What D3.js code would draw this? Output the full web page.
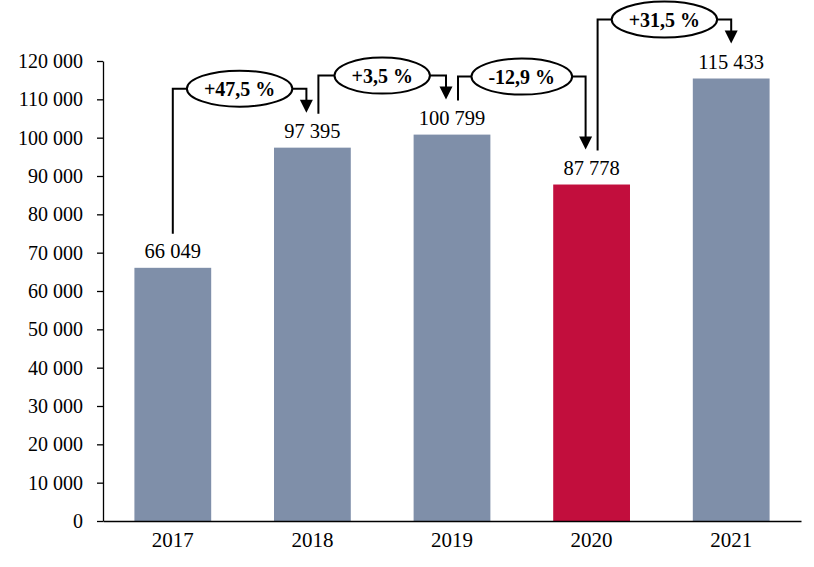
<!DOCTYPE html>
<html>
<head>
<meta charset="utf-8">
<script src="https://cdn.jsdelivr.net/npm/d3@7"></script>
<style>
  body { margin: 0; background: #fff; }
  svg { display: block; font-family: "Liberation Serif", "DejaVu Serif", serif; }
</style>
</head>
<body>
<div id="chart"></div>
<script>
const years = ["2017", "2018", "2019", "2020", "2021"];
const values = [66049, 97395, 100799, 87778, 115433];
const changes = ["+47,5 %", "+3,5 %", "-12,9 %", "+31,5 %"];
const highlightYear = "2020";
const yTicks = [0, 10000, 20000, 30000, 40000, 50000, 60000, 70000, 80000, 90000, 100000, 110000, 120000];

const w = 814, h = 567;
const margin = { top: 61, right: 13, bottom: 46, left: 103 };

const locale = d3.formatLocale({ decimal: ",", thousands: "\u00a0", grouping: [3], currency: ["", ""] });
const fmt = locale.format(",d");

const svg = d3.select("#chart").append("svg")
    .attr("width", w)
    .attr("height", h);

const x = d3.scaleBand()
    .domain(years)
    .range([margin.left, w - margin.right])
    .paddingInner(0.45)
    .paddingOuter(0.225);

const y = d3.scaleLinear()
    .domain([0, 120000])
    .range([h - margin.bottom, margin.top]);

// bars
svg.selectAll("rect.bar")
    .data(years)
    .enter()
    .append("rect")
    .attr("class", "bar")
    .attr("x", d => x(d))
    .attr("y", (d, i) => y(values[i]))
    .attr("width", x.bandwidth())
    .attr("height", (d, i) => y(0) - y(values[i]))
    .attr("fill", d => d === highlightYear ? "#c20e3d" : "#7f8fa9");

// y axis
const yAxis = svg.append("g")
    .attr("transform", `translate(${margin.left},0)`)
    .call(d3.axisLeft(y).tickValues(yTicks).tickFormat(fmt).tickSize(6).tickSizeOuter(0).tickPadding(14));
yAxis.select(".domain").attr("stroke", "#000").attr("stroke-width", 1.3);
yAxis.selectAll(".tick line").attr("stroke", "#000").attr("stroke-width", 1.3);
yAxis.selectAll("text").attr("font-size", 20).attr("fill", "#000").attr("font-family", "Liberation Serif, serif");

// x axis
const xAxis = svg.append("g")
    .attr("transform", `translate(0,${y(0)})`)
    .call(d3.axisBottom(x).tickSize(0).tickPadding(11));
xAxis.select(".domain").attr("stroke", "#000").attr("stroke-width", 1.3);
xAxis.selectAll("text").attr("font-size", 21).attr("fill", "#000").attr("font-family", "Liberation Serif, serif");

// value labels
svg.selectAll("text.val")
    .data(years)
    .enter()
    .append("text")
    .attr("class", "val")
    .attr("x", d => x(d) + x.bandwidth() / 2)
    .attr("y", (d, i) => y(values[i]) - 10)
    .attr("text-anchor", "middle")
    .attr("font-size", 20.5)
    .text((d, i) => fmt(values[i]));

// change annotations
const center = i => x(years[i]) + x.bandwidth() / 2;
const ann = svg.append("g");
changes.forEach((c, i) => {
    const x1 = center(i) + (i > 0 ? 6 : 0);
    const x2 = center(i + 1) - (i + 1 < changes.length ? 6 : 0);
    const y1 = y(values[i]) - 34;
    const y2 = y(values[i + 1]) - 35;
    const hy = Math.min(y1, y2) - 24;
    const ah = 13;

    ann.append("path")
        .attr("d", `M${x1},${y1}V${hy}H${x2}V${y2 - ah + 1}`)
        .attr("fill", "none")
        .attr("stroke", "#000")
        .attr("stroke-width", 2);
    ann.append("path")
        .attr("d", `M${x2 - 6.5},${y2 - ah}L${x2 + 6.5},${y2 - ah}L${x2},${y2}Z`)
        .attr("fill", "#000");

    const cx = (x1 + x2) / 2;
    const el = ann.append("ellipse")
        .attr("cx", cx)
        .attr("cy", hy)
        .attr("ry", 18)
        .attr("fill", "#fff")
        .attr("stroke", "#000")
        .attr("stroke-width", 2);
    const t = ann.append("text")
        .attr("x", cx)
        .attr("y", hy + 7)
        .attr("text-anchor", "middle")
        .attr("font-size", 20)
        .attr("font-weight", "bold")
        .text(c);
    const tw = t.node().getComputedTextLength();
    el.attr("rx", tw / 2 + 17);
});
</script>
</body>
</html>
